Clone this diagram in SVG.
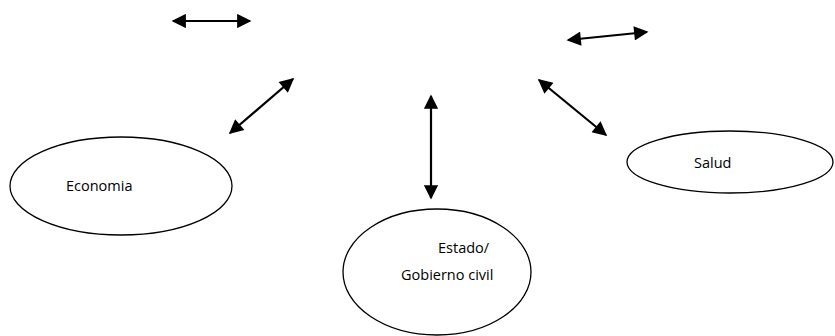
<svg xmlns="http://www.w3.org/2000/svg" width="835" height="336" viewBox="0 0 835 336">
<style>
.node ellipse{fill:#fff;stroke:#000;stroke-width:1.3}
.node text{font-family:"Open Sans","Liberation Sans",sans-serif;font-size:14.5px;fill:#000}
.conn line{stroke:#000;stroke-width:2.2;marker-start:url(#ah);marker-end:url(#ah)}
</style>
<defs>
<marker id="ah" viewBox="0 0 10 10" refX="9" refY="5" markerWidth="7.5" markerHeight="6.5" markerUnits="strokeWidth" orient="auto-start-reverse">
<path d="M0,0 L10,5 L0,10 Z" fill="#000"/>
</marker>
</defs>
<rect width="835" height="336" fill="#fff"/>
<g id="connectors" class="conn">
<line x1="173" y1="21" x2="250" y2="21"/>
<line x1="568" y1="40" x2="647" y2="32"/>
<line x1="230" y1="133" x2="293" y2="79"/>
<line x1="431" y1="96" x2="431" y2="198"/>
<line x1="539" y1="80" x2="606" y2="135"/>
</g>
<g id="economia" class="node">
<ellipse cx="121" cy="186" rx="111" ry="49"/>
<text x="66" y="191">Economia</text>
</g>
<g id="estado" class="node">
<ellipse cx="437" cy="272" rx="94" ry="63"/>
<text x="438" y="253">Estado/</text>
<text x="401" y="280">Gobierno  civil</text>
</g>
<g id="salud" class="node">
<ellipse cx="730" cy="162" rx="103" ry="31"/>
<text x="694" y="168">Salud</text>
</g>
</svg>
